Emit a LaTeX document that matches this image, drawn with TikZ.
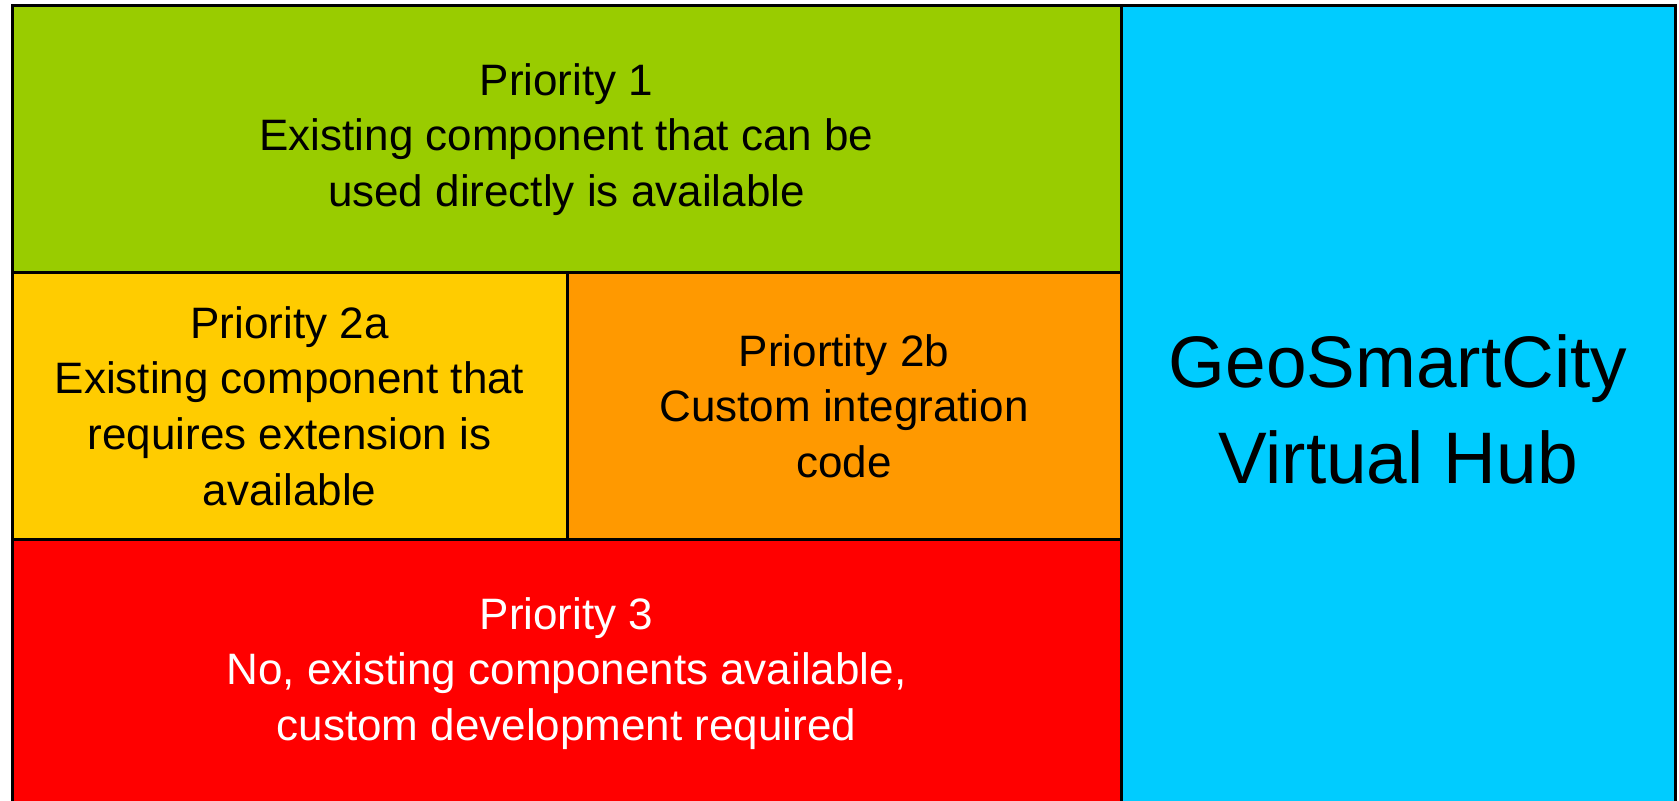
\documentclass[tikz,border=0pt]{standalone}
\usepackage{fontspec}
\setmainfont{Liberation Sans}

\definecolor{prioone}{HTML}{99CC00}
\definecolor{priotwoa}{HTML}{FFCC00}
\definecolor{priotwob}{HTML}{FF9900}
\definecolor{priothree}{HTML}{FF0000}
\definecolor{hubblue}{HTML}{00CCFF}

\tikzset{
  block/.style={draw=black, line width=1.5pt, rectangle, inner sep=0pt, align=center,
    font=\fontsize{22}{27.8}\selectfont},
}

\begin{document}
\begin{tikzpicture}[x=0.5pt, y=-0.5pt]
      \clip (0,0) rectangle (1679,801);
      \fill[white] (0,0) rectangle (1679,801);

      \node[block, fill=prioone, minimum width=554.5pt, minimum height=133.5pt] (P1) at (566.5,139.5)
        {Priority 1\\Existing component that can be\\used directly is available};
      \node[block, fill=priotwoa, minimum width=277.5pt, minimum height=133pt] (P2a) at (289.5,406)
        {Priority 2a\\Existing component that\\requires extension is\\available};
      \node[block, fill=priotwob, minimum width=277pt, minimum height=133pt] (P2b) at (844,406)
        {Priortity 2b\\Custom integration\\code};
      \node[block, fill=priothree, text=white, minimum width=554.5pt, minimum height=134.5pt] (P3) at (566.5,673.5)
        {Priority 3\\No, existing components available,\\custom development required};
      \node[block, fill=hubblue, minimum width=277pt, minimum height=403pt,
        font=\fontsize{36.5}{48}\selectfont] (Hub) at (1398,409)
        {GeoSmartCity\\Virtual Hub};
    \end{tikzpicture}
\end{document}
